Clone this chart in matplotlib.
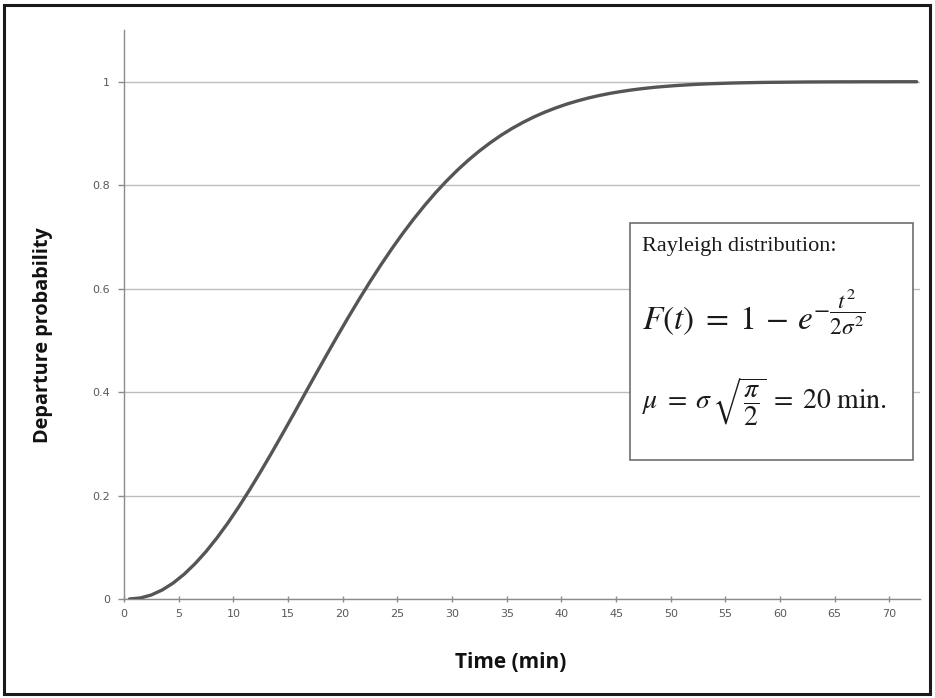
import matplotlib
matplotlib.use("Agg")
import matplotlib.pyplot as plt
from matplotlib.patches import Rectangle

# Departure probability, one value per minute (0..72)
minutes = list(range(0, 73))
probability = [
    0.0000, 0.0020, 0.0078, 0.0175, 0.0309, 0.0479, 0.0683, 0.0917, 0.1181, 0.1470,
    0.1783, 0.2115, 0.2464, 0.2824, 0.3194, 0.3571, 0.3951, 0.4331, 0.4707, 0.5078,
    0.5441, 0.5793, 0.6134, 0.6461, 0.6773, 0.7069, 0.7348, 0.7610, 0.7855, 0.8082,
    0.8292, 0.8485, 0.8661, 0.8821, 0.8967, 0.9098, 0.9215, 0.9320, 0.9413, 0.9495,
    0.9568, 0.9631, 0.9687, 0.9735, 0.9777, 0.9812, 0.9843, 0.9869, 0.9892, 0.9910,
    0.9926, 0.9939, 0.9951, 0.9960, 0.9967, 0.9974, 0.9979, 0.9983, 0.9987, 0.9989,
    0.9991, 0.9993, 0.9995, 0.9996, 0.9997, 0.9998, 0.9998, 0.9999, 0.9999, 0.9999,
    1.0000, 1.0000, 1.0000,
]
x_ticks = list(range(0, 75, 5))
y_ticks = [0, 0.2, 0.4, 0.6, 0.8, 1]
y_tick_labels = ["0", "0.2", "0.4", "0.6", "0.8", "1"]

plt.rcParams["mathtext.fontset"] = "stix"

W, H = 935, 698
fig = plt.figure(figsize=(W / 100, H / 100), dpi=100)

# outer black frame
fig.patches.append(Rectangle((4 / W, 4 / H), (W - 9) / W, (H - 9) / H,
                             transform=fig.transFigure, fill=False,
                             edgecolor="#1a1a1a", linewidth=2.2))

left, right, top, bottom = 124, 920, 30, 599
ax = fig.add_axes([left / W, 1 - bottom / H, (right - left) / W, (bottom - top) / H])

# category-axis style: points sit at the middle of each minute slot
ax.plot([m + 0.5 for m in minutes], probability, color="#555555", linewidth=2.4,
        solid_capstyle="round", zorder=3)

ax.set_xlim(0, 72.8)
ax.set_ylim(0, 1.1)
ax.set_xticks(x_ticks)
ax.set_xticklabels([str(v) for v in x_ticks])
ax.set_yticks(y_ticks)
ax.set_yticklabels(y_tick_labels)

for s in ["top", "right"]:
    ax.spines[s].set_visible(False)
for s in ["left", "bottom"]:
    ax.spines[s].set_color("#8c8c8c")
    ax.spines[s].set_linewidth(1.0)

ax.grid(axis="y", color="#bdbdbd", linewidth=1.0)
ax.set_axisbelow(True)
ax.tick_params(axis="both", colors="#8c8c8c", labelcolor="#595959", labelsize=8,
               length=4, width=1.0)
ax.tick_params(axis="x", direction="inout", pad=5)
ax.tick_params(axis="y", direction="out", pad=6)

fig.text(43 / W, 1 - 335 / H, "Departure probability", rotation=90, ha="center",
         va="center", fontsize=14.3, fontweight="bold", family="Open Sans", color="#111111")
fig.text(511 / W, 1 - 663 / H, "Time (min)", ha="center", va="center",
         fontsize=15, fontweight="bold", family="Open Sans", color="#111111")

# text box
bx0, by0, bx1, by1 = 630, 223, 913, 460
fig.patches.append(Rectangle((bx0 / W, 1 - by1 / H), (bx1 - bx0) / W, (by1 - by0) / H,
                             transform=fig.transFigure, facecolor="white",
                             edgecolor="#6e6e6e", linewidth=1.2, zorder=5))
fig.text(642 / W, 1 - 246 / H, "Rayleigh distribution:", ha="left", va="center",
         fontsize=16, family="Liberation Serif", color="#1a1a1a", zorder=6)
fig.text(642 / W, 1 - 312 / H, r"$F(t)\;=\;1\,-\,e^{-\dfrac{t^2}{2\sigma^2}}$", ha="left",
         va="center", fontsize=24, color="#1a1a1a", zorder=6)
fig.text(642 / W, 1 - 402 / H,
         r"$\mu\;=\;\sigma\,\sqrt{\dfrac{\pi}{2}}\;=\;\mathrm{20\ min.}$",
         ha="left", va="center", fontsize=20, color="#1a1a1a", zorder=6)

fig.savefig("out.png", dpi=100)
